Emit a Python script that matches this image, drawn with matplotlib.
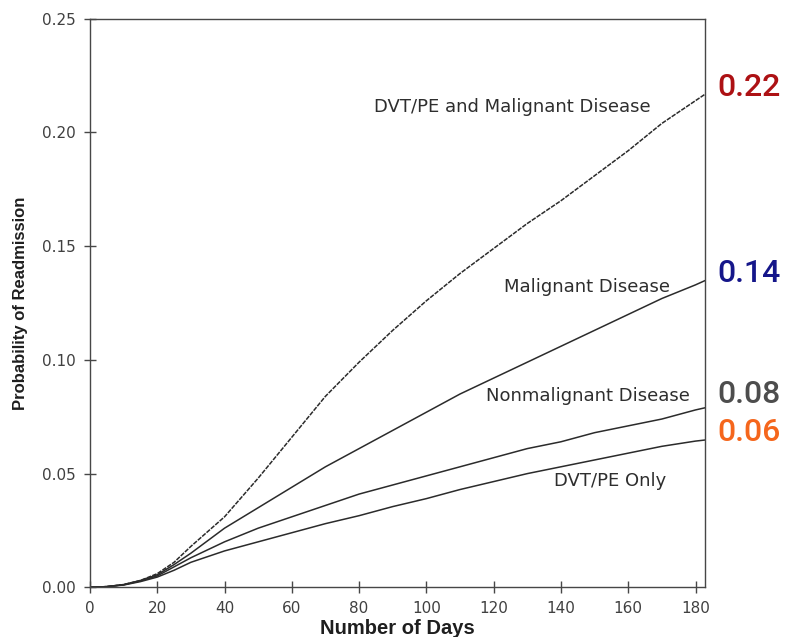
import matplotlib
matplotlib.use("Agg")
import matplotlib.pyplot as plt

days = [0, 5, 10, 15, 20, 25, 30, 40, 50, 60, 70, 80, 90, 100,
        110, 120, 130, 140, 150, 160, 170, 180, 183]

dvt_malignant = [0, 0.0003, 0.0012, 0.003, 0.006, 0.011, 0.018, 0.031, 0.048,
                 0.066, 0.084, 0.099, 0.113, 0.126, 0.138, 0.149, 0.160,
                 0.170, 0.181, 0.192, 0.204, 0.214, 0.217]
malignant = [0, 0.0003, 0.0012, 0.003, 0.0055, 0.010, 0.015, 0.026, 0.035,
             0.044, 0.053, 0.061, 0.069, 0.077, 0.085, 0.092, 0.099, 0.106,
             0.113, 0.120, 0.127, 0.133, 0.135]
nonmalignant = [0, 0.0003, 0.0011, 0.0028, 0.005, 0.009, 0.013, 0.020, 0.026,
                0.031, 0.036, 0.041, 0.045, 0.049, 0.053, 0.057, 0.061, 0.064,
                0.068, 0.071, 0.074, 0.078, 0.079]
dvt_only = [0, 0.0003, 0.001, 0.0025, 0.0045, 0.0075, 0.011, 0.016, 0.020,
            0.024, 0.028, 0.0315, 0.0355, 0.039, 0.043, 0.0465, 0.050, 0.053,
            0.056, 0.059, 0.062, 0.0643, 0.0648]

curve_labels = ["DVT/PE and Malignant Disease", "Malignant Disease",
                "Nonmalignant Disease", "DVT/PE Only"]
label_pos = [(125.5, 0.2114), (147.8, 0.132), (147.9, 0.0843), (154.7, 0.0467)]

end_values = ["0.22", "0.14", "0.08", "0.06"]
end_colors = ["#ad1114", "#15168a", "#4d4d4d", "#f5661c"]
end_y = [0.2198, 0.138, 0.0848, 0.0681]

plt.rcParams["font.family"] = ["Liberation Sans", "DejaVu Sans"]

fig = plt.figure(figsize=(7.85, 6.37), dpi=100)
ax = fig.add_axes([0.1146, 0.078, 0.7834, 0.8925])

line_color = "#2b2b2b"
ax.plot(days, dvt_malignant, color=line_color, lw=1.1, ls=(0, (3, 0.8)))
ax.plot(days, malignant, color=line_color, lw=1.1)
ax.plot(days, nonmalignant, color=line_color, lw=1.1)
ax.plot(days, dvt_only, color=line_color, lw=1.1)

for text, (x, y) in zip(curve_labels, label_pos):
    ax.text(x, y, text, ha="center", va="center", fontsize=13,
            color="#2e2e2e", family="DejaVu Sans")

# end-of-follow-up probabilities, outside the frame on the right
for text, color, y in zip(end_values, end_colors, end_y):
    ax.text(1.021, y, text, transform=ax.get_yaxis_transform(),
            ha="left", va="center", fontsize=23, color=color,
            family="Roboto", fontweight="medium")

ax.set_xlim(0, 182.8)
ax.set_ylim(0, 0.25)
ax.set_xticks(range(0, 181, 20))
ax.set_yticks([0, 0.05, 0.10, 0.15, 0.20, 0.25])
ax.set_yticklabels(["0.00", "0.05", "0.10", "0.15", "0.20", "0.25"])

for side in ["left", "bottom", "top", "right"]:
    ax.spines[side].set_color("#474747")
    ax.spines[side].set_linewidth(1.0)

ax.tick_params(direction="inout", length=8, width=1, color="#474747",
               labelsize=11, labelcolor="#404040", pad=6)
for lab in ax.get_xticklabels() + ax.get_yticklabels():
    lab.set_family("DejaVu Sans")

ax.set_xlabel("Number of Days", fontsize=14.5, fontweight="bold",
              color="#1e1e1e", labelpad=2)
ax.set_ylabel("Probability of Readmission", fontsize=12, fontweight="bold",
              color="#1e1e1e", labelpad=10)

fig.savefig("out.png", dpi=100)
